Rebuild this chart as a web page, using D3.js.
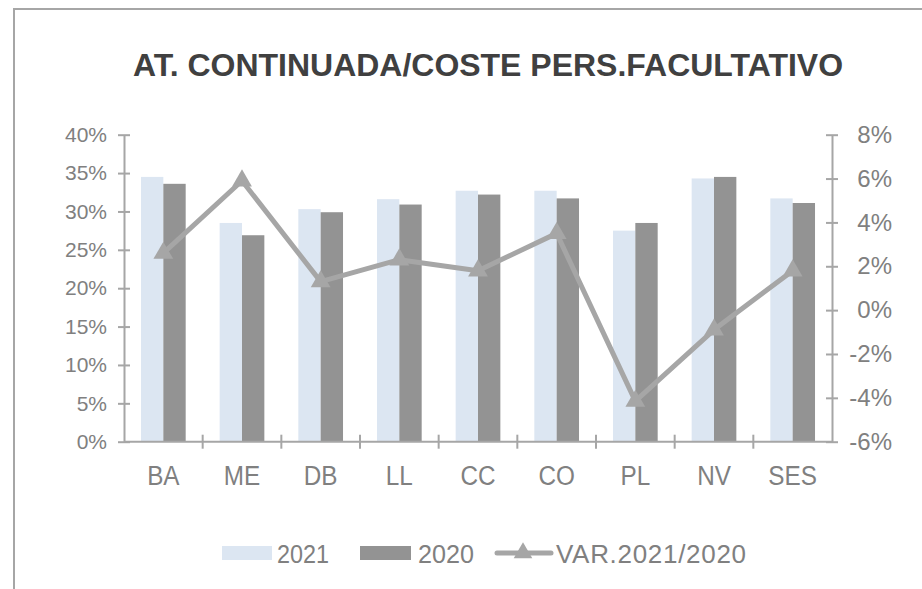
<!DOCTYPE html>
<html>
<head>
<meta charset="utf-8">
<script src="https://cdn.jsdelivr.net/npm/d3@7"></script>
<style>
  body { margin: 0; background: #fff; }
  svg { display: block; font-family: "Liberation Sans", Arial, sans-serif; }
</style>
</head>
<body>
<svg width="922" height="589"></svg>
<script>
// datos
var centros = ["BA", "ME", "DB", "LL", "CC", "CO", "PL", "NV", "SES"];
var series = ["2021", "2020"];
var v2021 = [0.345, 0.285, 0.303, 0.316, 0.327, 0.327, 0.275, 0.343, 0.317];
var v2020 = [0.336, 0.269, 0.299, 0.309, 0.322, 0.317, 0.285, 0.345, 0.311];
var variacion = [0.026, 0.059, 0.013, 0.023, 0.018, 0.035, -0.0415, -0.009, 0.018];
var ticksIzq = [0, 0.05, 0.10, 0.15, 0.20, 0.25, 0.30, 0.35, 0.40];
var ticksDer = [-0.06, -0.04, -0.02, 0, 0.02, 0.04, 0.06, 0.08];

var colores = {"2021": "#dce6f2", "2020": "#939393"};
var gris = "#a6a6a6";
var textoGris = "#808080";

// porcentaje con guion normal
var pct = d => Math.round(d * 100) + "%";

var svg = d3.select("svg");

// marco
svg.append("path")
  .attr("d", "M14,589 L14,9 L922,9")
  .attr("fill", "none")
  .attr("stroke", gris)
  .attr("stroke-width", 2);

// titulo
svg.append("text")
  .attr("x", 133)
  .attr("y", 76)
  .attr("textLength", 710)
  .attr("lengthAdjust", "spacingAndGlyphs")
  .attr("font-size", 31)
  .attr("font-weight", "bold")
  .attr("fill", "#404040")
  .text("AT. CONTINUADA/COSTE PERS.FACULTATIVO");

var izq = 124, der = 832, arriba = 134.7, abajo = 441.7;

var x0 = d3.scaleBand().domain(centros).range([izq, der]);
var x1 = d3.scaleBand().domain(series).range([0, x0.bandwidth()]).paddingOuter(0.76);
var yL = d3.scaleLinear().domain([0, 0.4]).range([abajo, arriba]);
var yR = d3.scaleLinear().domain([-0.06, 0.08]).range([abajo, arriba]);

var datos = centros.map((c, i) => ({centro: c, "2021": v2021[i], "2020": v2020[i], var: variacion[i]}));

// barras
var grupos = svg.append("g").selectAll("g")
  .data(datos)
  .enter()
  .append("g")
  .attr("transform", d => `translate(${x0(d.centro)},0)`);

grupos.selectAll("rect")
  .data(d => series.map(s => ({serie: s, valor: d[s]})))
  .enter()
  .append("rect")
  .attr("x", d => x1(d.serie))
  .attr("y", d => yL(d.valor))
  .attr("width", x1.bandwidth())
  .attr("height", d => abajo - yL(d.valor))
  .attr("fill", d => colores[d.serie]);

// eje izquierdo
var ejeIzq = svg.append("g")
  .attr("transform", `translate(${izq},0)`)
  .call(d3.axisLeft(yL).tickValues(ticksIzq).tickFormat(pct).tickSizeOuter(0).tickSizeInner(6).tickPadding(11));
ejeIzq.select(".domain").attr("stroke", gris).attr("stroke-width", 2);
ejeIzq.selectAll(".tick line").attr("x1", 6).attr("stroke", gris).attr("stroke-width", 2);
ejeIzq.selectAll(".tick text").attr("font-size", 21).attr("fill", textoGris).attr("font-family", "Liberation Sans, Arial, sans-serif");

// eje derecho
var ejeDer = svg.append("g")
  .attr("transform", `translate(${der},0)`)
  .call(d3.axisRight(yR).tickValues(ticksDer).tickFormat(pct).tickSizeOuter(0).tickSizeInner(6));
ejeDer.select(".domain").attr("stroke", gris).attr("stroke-width", 2);
ejeDer.selectAll(".tick line").attr("x1", -6).attr("stroke", gris).attr("stroke-width", 2);
ejeDer.selectAll(".tick text")
  .attr("x", 60)
  .attr("text-anchor", "end")
  .attr("font-size", 24)
  .attr("fill", textoGris)
  .attr("font-family", "Liberation Sans, Arial, sans-serif");

// eje x
var ejeX = svg.append("g")
  .attr("transform", `translate(0,${abajo})`);
ejeX.append("line")
  .attr("x1", izq).attr("x2", der)
  .attr("stroke", gris).attr("stroke-width", 2);
ejeX.selectAll(".sep")
  .data(centros.slice(1))
  .enter()
  .append("line")
  .attr("x1", d => x0(d)).attr("x2", d => x0(d))
  .attr("y1", -7).attr("y2", 7)
  .attr("stroke", gris).attr("stroke-width", 2);
ejeX.selectAll(".lab")
  .data(centros)
  .enter()
  .append("text")
  .attr("transform", d => `translate(${x0(d) + x0.bandwidth() / 2},43) scale(0.9,1)`)
  .attr("text-anchor", "middle")
  .attr("font-size", 27)
  .attr("fill", textoGris)
  .text(d => d);

// linea de variacion
var linea = d3.line()
  .x(d => x0(d.centro) + x0.bandwidth() / 2)
  .y(d => yR(d.var));

svg.append("path")
  .datum(datos)
  .attr("d", linea)
  .attr("fill", "none")
  .attr("stroke", gris)
  .attr("stroke-width", 5)
  .attr("stroke-linejoin", "round");

var triangulo = d3.symbol().type(d3.symbolTriangle).size(170);
svg.selectAll(".marca")
  .data(datos)
  .enter()
  .append("path")
  .attr("d", triangulo)
  .attr("transform", d => `translate(${x0(d.centro) + x0.bandwidth() / 2},${yR(d.var)})`)
  .attr("fill", gris);

// leyenda
var ley = svg.append("g");
ley.append("rect").attr("x", 222).attr("y", 546).attr("width", 50).attr("height", 14).attr("fill", colores["2021"]);
ley.append("text").attr("x", 277).attr("y", 563).attr("textLength", 52).attr("lengthAdjust", "spacingAndGlyphs")
  .attr("font-size", 26).attr("fill", textoGris).text("2021");
ley.append("rect").attr("x", 360).attr("y", 546).attr("width", 51).attr("height", 14).attr("fill", colores["2020"]);
ley.append("text").attr("x", 418).attr("y", 563).attr("textLength", 56).attr("lengthAdjust", "spacingAndGlyphs")
  .attr("font-size", 26).attr("fill", textoGris).text("2020");
ley.append("line").attr("x1", 497).attr("x2", 551).attr("y1", 553).attr("y2", 553)
  .attr("stroke", gris).attr("stroke-width", 5).attr("stroke-linecap", "round");
ley.append("path").attr("d", d3.symbol().type(d3.symbolTriangle).size(150)).attr("transform", "translate(523,553)").attr("fill", gris);
ley.append("text").attr("x", 556).attr("y", 563).attr("textLength", 190).attr("lengthAdjust", "spacing")
  .attr("font-size", 26).attr("fill", textoGris).text("VAR.2021/2020");
</script>
</body>
</html>
